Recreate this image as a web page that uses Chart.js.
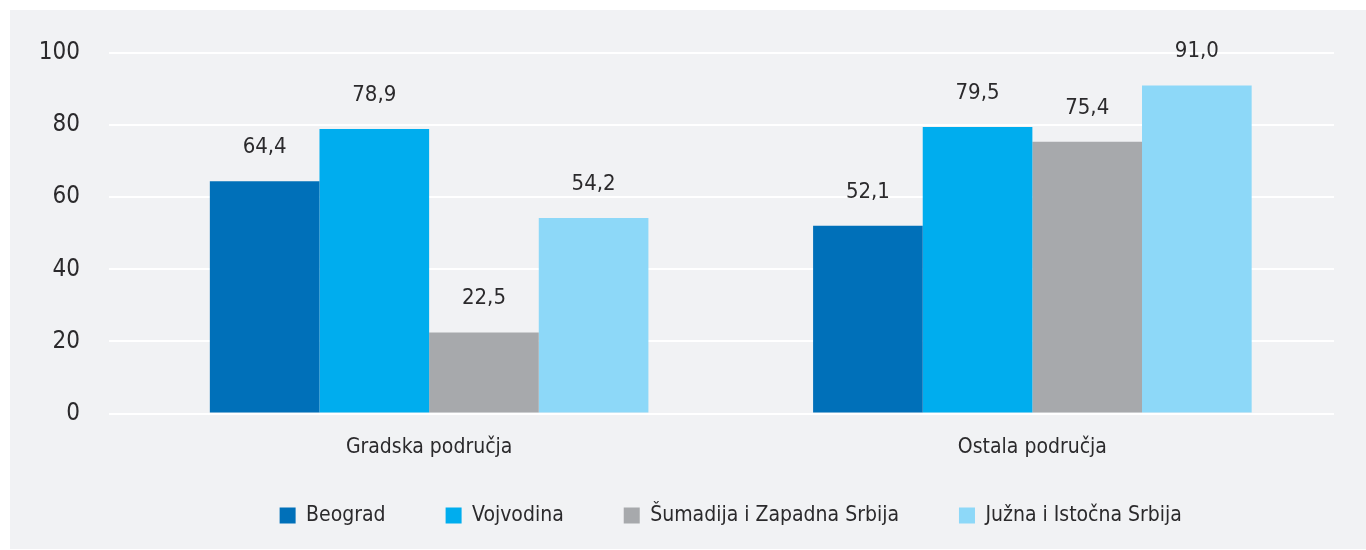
<!DOCTYPE html>
<html>
<head>
<meta charset="utf-8">
<script src="https://cdn.jsdelivr.net/npm/chart.js@4"></script>
<style>
  html, body { margin: 0; padding: 0; background: #fff; }
  #wrap { width: 1366px; height: 550px; }
</style>
</head>
<body>
<div id="wrap"><canvas id="chart" width="1366" height="550"></canvas></div>
<script>
const categories = ['Gradska područja', 'Ostala područja'];
const regions = ['Beograd', 'Vojvodina', 'Šumadija i Zapadna Srbija', 'Južna i Istočna Srbija'];
const beograd = [64.4, 52.1];
const vojvodina = [78.9, 79.5];
const sumadija = [22.5, 75.4];
const juzna = [54.2, 91.0];
const colors = ['#0070b9', '#00adee', '#a7a9ac', '#8dd8f8'];
const yTicks = [0, 20, 40, 60, 80, 100];

const FONT = '"Liberation Sans Narrow", "DejaVu Sans Condensed", "Arial Narrow", sans-serif';
const textColor = '#2b2a2c';

// grey panel behind the chart
const panelBg = {
  id: 'panelBg',
  beforeDraw(chart) {
    const ctx = chart.ctx;
    ctx.save();
    ctx.fillStyle = '#f1f2f4';
    ctx.fillRect(10, 10, chart.width - 10, chart.height - 11);
    ctx.restore();
  }
};

// legend needs wide item spacing but sits closer to the axis labels
const legendShift = {
  id: 'legendShift',
  afterLayout(chart) {
    chart.legend.top -= 16;
    chart.legend.bottom -= 16;
  }
};

// value labels above the bars, decimal comma
const valueLabels = {
  id: 'valueLabels',
  afterDatasetsDraw(chart) {
    const ctx = chart.ctx;
    ctx.save();
    ctx.font = '22px ' + FONT;
    ctx.fillStyle = textColor;
    ctx.textAlign = 'center';
    ctx.textBaseline = 'alphabetic';
    chart.data.datasets.forEach((ds, i) => {
      chart.getDatasetMeta(i).data.forEach((bar, j) => {
        const txt = ds.data[j].toFixed(1).replace('.', ',');
        ctx.fillText(txt, bar.x, bar.y - 28);
      });
    });
    ctx.restore();
  }
};

const series = [beograd, vojvodina, sumadija, juzna];

new Chart(document.getElementById('chart').getContext('2d'), {
  type: 'bar',
  data: {
    labels: categories,
    datasets: regions.map((r, i) => ({
      label: r,
      data: series[i],
      backgroundColor: colors[i],
      borderWidth: 0,
      categoryPercentage: 0.727,
      barPercentage: 1.0
    }))
  },
  options: {
    responsive: false,
    animation: false,
    layout: { padding: { left: 10, right: 32, top: 53, bottom: -2 } },
    scales: {
      x: {
        afterFit: (s) => { s.height = 47.5; },
        grid: { display: false, drawTicks: false },
        border: { display: false },
        ticks: { color: textColor, font: { family: FONT, size: 21 }, padding: 21 }
      },
      y: {
        min: 0,
        max: 100,
        afterBuildTicks: (s) => { s.ticks = yTicks.map(v => ({ value: v })); },
        afterFit: (s) => { s.width = 117.5; },
        grid: { color: '#ffffff', lineWidth: 2, tickLength: 18.5, tickColor: '#ffffff' },
        border: { display: false },
        ticks: { color: textColor, font: { family: FONT, size: 24 }, padding: 29 }
      }
    },
    plugins: {
      legend: {
        position: 'bottom',
        fullSize: false,
        labels: {
          color: textColor,
          font: { family: FONT, size: 21 },
          boxWidth: 16,
          boxHeight: 16,
          padding: 60
        }
      },
      tooltip: { enabled: false }
    }
  },
  plugins: [panelBg, legendShift, valueLabels]
});
</script>
</body>
</html>
